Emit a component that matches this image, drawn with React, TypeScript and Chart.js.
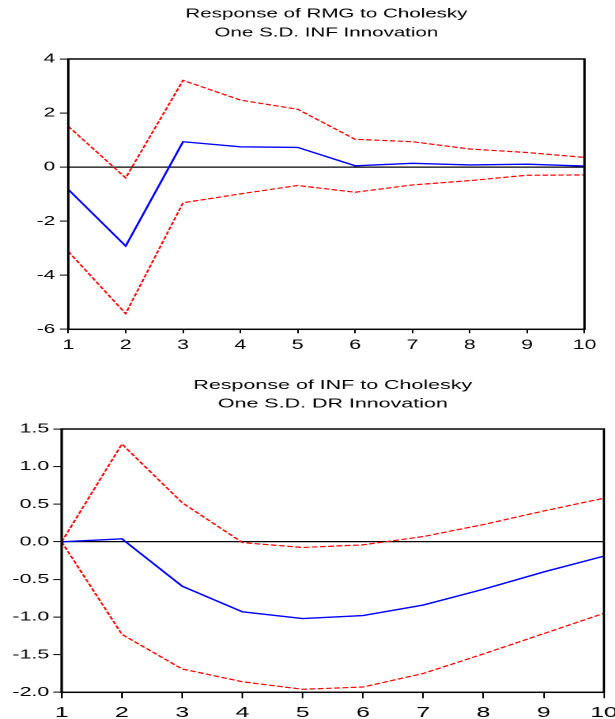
import React, { useEffect, useRef } from 'react';
import { Chart, registerables } from 'chart.js';

Chart.register(...registerables);

// ---------- data ----------
const periods = ['1', '2', '3', '4', '5', '6', '7', '8', '9', '10'];

const rmgTitle = ['Response of RMG to Cholesky', 'One S.D. INF Innovation'];
const rmgResponse = [-0.83, -2.92, 0.94, 0.75, 0.73, 0.05, 0.14, 0.08, 0.11, 0.04];
const rmgUpper = [1.51, -0.4, 3.21, 2.48, 2.14, 1.03, 0.94, 0.67, 0.54, 0.36];
const rmgLower = [-3.12, -5.42, -1.32, -0.99, -0.68, -0.93, -0.66, -0.5, -0.3, -0.29];
const rmgTicks = [-6, -4, -2, 0, 2, 4];

const infTitle = ['Response of INF to Cholesky', 'One S.D. DR Innovation'];
const infResponse = [0, 0.04, -0.59, -0.93, -1.02, -0.98, -0.84, -0.63, -0.4, -0.19];
const infUpper = [0, 1.3, 0.52, -0.01, -0.075, -0.04, 0.07, 0.23, 0.41, 0.58];
const infLower = [0, -1.23, -1.69, -1.86, -1.96, -1.93, -1.75, -1.49, -1.22, -0.95];
const infTicks = [-2.0, -1.5, -1.0, -0.5, 0.0, 0.5, 1.0, 1.5];

const FONT = "'Liberation Sans', Arial, sans-serif";

type PanelProps = {
  title: string[];
  response: number[];
  upper: number[];
  lower: number[];
  ticks: number[];
  decimals: number;
  pageTop: number;
  width: number;
  height: number;
  plotLeft: number;
  rightPad: number;
  titlePadTop: number;
  titlePadBottom: number;
  titleLine: number;
  xAxisHeight: number;
  xTickLen: number;
  xPad: number;
  xFont: number;
  yTickLen: number;
  yPad: number;
};

const framePlugin = {
  id: 'frameBox',
  afterDatasetsDraw(chart: any) {
    const { ctx, chartArea } = chart;
    const { left, top, right, bottom } = chartArea;
    ctx.save();
    ctx.strokeStyle = '#000';
    ctx.lineWidth = 1.5;
    ctx.strokeRect(left, top, right - left, bottom - top);
    ctx.restore();
  },
};

function IRFPanel(p: PanelProps) {
  const ref = useRef<HTMLCanvasElement | null>(null);

  useEffect(() => {
    if (!ref.current) return;
    const yMin = p.ticks[0];
    const yMax = p.ticks[p.ticks.length - 1];
    const step = p.ticks[1] - p.ticks[0];
    const chart = new Chart(ref.current, {
      type: 'line',
      data: {
        labels: periods,
        datasets: [
          {
            data: p.upper,
            borderColor: '#ff0000',
            borderWidth: 1.2,
            borderDash: [3.5, 1.5],
            pointRadius: 0,
            fill: false,
            tension: 0,
          },
          {
            data: p.lower,
            borderColor: '#ff0000',
            borderWidth: 1.2,
            borderDash: [3.5, 1.5],
            pointRadius: 0,
            fill: false,
            tension: 0,
          },
          {
            data: p.response,
            borderColor: '#0000ff',
            borderWidth: 1.4,
            pointRadius: 0,
            fill: false,
            tension: 0,
          },
        ],
      },
      options: {
        animation: false,
        responsive: true,
        maintainAspectRatio: false,
        devicePixelRatio: 2,
        layout: { padding: { top: 0, left: 0, right: p.rightPad, bottom: 0 } },
        plugins: {
          legend: { display: false },
          tooltip: { enabled: false },
          title: {
            display: true,
            text: p.title,
            fullSize: false,
            color: '#000',
            font: { family: FONT, size: 13, weight: 'normal', lineHeight: `${p.titleLine}px` },
            padding: { top: p.titlePadTop, bottom: p.titlePadBottom },
          },
        },
        scales: {
          x: {
            type: 'category',
            offset: false,
            border: { display: false },
            grid: {
              display: true,
              drawOnChartArea: false,
              drawTicks: true,
              tickLength: p.xTickLen,
              tickColor: '#000',
              tickWidth: 1,
            },
            ticks: {
              color: '#000',
              padding: p.xPad,
              maxRotation: 0,
              autoSkip: false,
              font: { family: FONT, size: p.xFont },
            },
            afterFit(scale: any) {
              scale.height = p.xAxisHeight;
              scale.paddingLeft = 0;
              scale.paddingRight = 0;
            },
          },
          y: {
            min: yMin,
            max: yMax,
            border: { display: false },
            grid: {
              display: true,
              drawOnChartArea: true,
              drawTicks: true,
              tickLength: p.yTickLen,
              tickColor: '#000',
              tickWidth: 1,
              lineWidth: 1.2,
              color: (ctx: any) => (ctx.tick && ctx.tick.value === 0 ? '#000' : 'rgba(0,0,0,0)'),
            },
            ticks: {
              stepSize: step,
              color: '#000',
              padding: p.yPad,
              font: { family: FONT, size: 13 },
              callback: (v: any) => Number(v).toFixed(p.decimals),
            },
            afterFit(scale: any) {
              scale.width = p.plotLeft;
              scale.paddingTop = 0;
              scale.paddingBottom = 0;
            },
          },
        },
      },
      plugins: [framePlugin],
    });
    return () => chart.destroy();
  }, []);

  const stretch = 615 / p.width;
  return (
    <div
      style={{
        position: 'absolute',
        left: 0,
        top: p.pageTop,
        width: p.width,
        height: p.height,
        transform: `scaleX(${stretch})`,
        transformOrigin: '0 0',
      }}
    >
      <canvas ref={ref} style={{ display: 'block' }} />
    </div>
  );
}

export default function App() {
  return (
    <div
      style={{
        position: 'absolute',
        left: 0,
        top: 0,
        width: 615,
        height: 719,
        overflow: 'hidden',
        background: '#fff',
      }}
    >
      <IRFPanel
        title={rmgTitle}
        response={rmgResponse}
        upper={rmgUpper}
        lower={rmgLower}
        ticks={rmgTicks}
        decimals={0}
        pageTop={0}
        width={389}
        height={360}
        plotLeft={43.2}
        rightPad={19.3}
        titlePadTop={4.6}
        titlePadBottom={16.4}
        titleLine={19}
        xAxisHeight={30.7}
        xTickLen={4}
        xPad={3.8}
        xFont={13.5}
        yTickLen={5.3}
        yPad={3.1}
      />
      <IRFPanel
        title={infTitle}
        response={infResponse}
        upper={infUpper}
        lower={infLower}
        ticks={infTicks}
        decimals={1}
        pageTop={360}
        width={373}
        height={359}
        plotLeft={37.4}
        rightPad={6.7}
        titlePadTop={16}
        titlePadBottom={15.6}
        titleLine={18.7}
        xAxisHeight={26.7}
        xTickLen={6}
        xPad={5.5}
        xFont={15}
        yTickLen={5.1}
        yPad={2.4}
      />
    </div>
  );
}
